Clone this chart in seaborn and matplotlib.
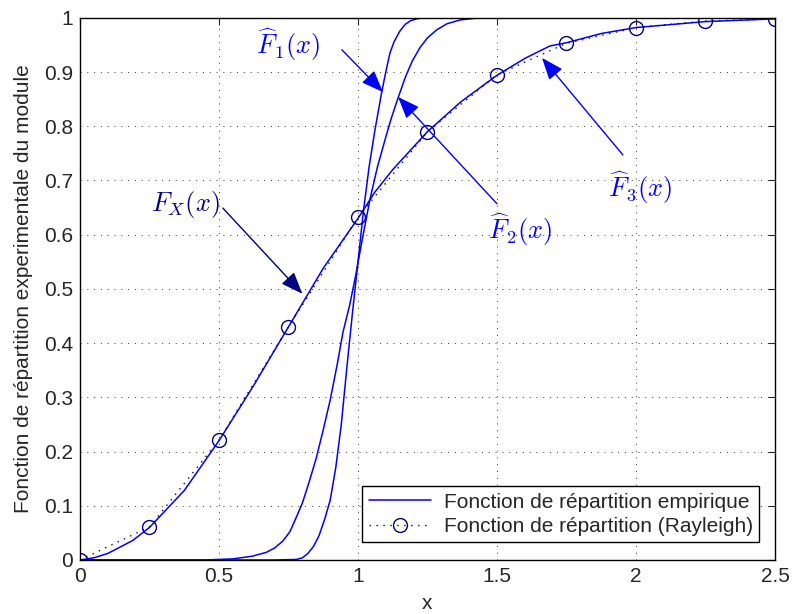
import numpy as np
import matplotlib
matplotlib.use("Agg")
import matplotlib.pyplot as plt
import seaborn as sns

# empirical CDF 1 (steepest)
x_f1 = [0.0, 0.5, 0.7, 0.78, 0.8, 0.82, 0.84, 0.86, 0.88, 0.9, 0.92, 0.94, 0.96, 0.98, 1.0, 1.02,
        1.04, 1.06, 1.085, 1.1, 1.115, 1.13, 1.15, 1.17, 1.19, 1.22, 1.25, 1.5, 2.0, 2.5]
y_f1 = [0.0, 0.0, 0.0, 0.001, 0.004, 0.012, 0.025, 0.045, 0.075, 0.11, 0.17, 0.25, 0.355, 0.455, 0.55, 0.645,
        0.725, 0.79, 0.862, 0.9, 0.935, 0.956, 0.975, 0.988, 0.995, 0.999, 1.0, 1.0, 1.0, 1.0]

# empirical CDF 2
x_f2 = [0.0, 0.45, 0.55, 0.62, 0.67, 0.7, 0.73, 0.755, 0.775, 0.8, 0.825, 0.85, 0.875, 0.9, 0.925, 0.946,
        0.97, 0.99, 1.015, 1.043, 1.07, 1.1, 1.12, 1.144, 1.17, 1.195, 1.223, 1.25, 1.284, 1.32, 1.367,
        1.42, 1.5, 2.0, 2.5]
y_f2 = [0.0, 0.0, 0.002, 0.007, 0.014, 0.022, 0.035, 0.052, 0.075, 0.105, 0.145, 0.188, 0.24, 0.295, 0.36, 0.42,
        0.47, 0.52, 0.59, 0.665, 0.725, 0.78, 0.815, 0.852, 0.89, 0.92, 0.945, 0.963, 0.978, 0.989, 0.996,
        0.999, 1.0, 1.0, 1.0]

# empirical CDF 3 (close to Rayleigh)
x_f3 = [0.0, 0.05, 0.1, 0.19, 0.25, 0.375, 0.5, 0.625, 0.75, 0.875, 1.0, 1.06, 1.125, 1.25, 1.37, 1.5,
        1.6, 1.69, 1.75, 1.875, 2.0, 2.25, 2.5]
y_f3 = [0.0, 0.004, 0.012, 0.036, 0.060, 0.128, 0.220, 0.322, 0.430, 0.538, 0.630, 0.678, 0.720, 0.790,
        0.845, 0.894, 0.925, 0.948, 0.954, 0.971, 0.982, 0.993, 0.998]

# Rayleigh CDF at sample points
x_ray = [0.0, 0.25, 0.5, 0.75, 1.0, 1.25, 1.5, 1.75, 2.0, 2.25, 2.5]
y_ray = [0.0, 0.061, 0.221, 0.430, 0.632, 0.790, 0.895, 0.953, 0.982, 0.994, 0.998]

x_ticks = [0, 0.5, 1, 1.5, 2, 2.5]
x_tick_labels = ["0", "0.5", "1", "1.5", "2", "2.5"]
y_ticks = [0, 0.1, 0.2, 0.3, 0.4, 0.5, 0.6, 0.7, 0.8, 0.9, 1.0]
y_tick_labels = ["0", "0.1", "0.2", "0.3", "0.4", "0.5", "0.6", "0.7", "0.8", "0.9", "1"]

sns.set_style("white")
plt.rcParams["font.family"] = ["Liberation Sans", "DejaVu Sans"]
plt.rcParams["mathtext.fontset"] = "cm"

blue = "#0000FF"
navy = "#000080"

fig = plt.figure(figsize=(7.92, 6.14), dpi=100)
ax = fig.add_axes([0.101, 0.088, 0.8775, 0.883])

sns.lineplot(x=x_f1, y=y_f1, ax=ax, color=blue, lw=1.1, sort=False, estimator=None,
             label="Fonction de répartition empirique")
sns.lineplot(x=x_f2, y=y_f2, ax=ax, color=blue, lw=1.1, sort=False, estimator=None)
sns.lineplot(x=x_f3, y=y_f3, ax=ax, color=blue, lw=1.1, sort=False, estimator=None)
sns.lineplot(x=x_ray, y=y_ray, ax=ax, color=navy, lw=1.0, linestyle=(0, (1, 4)), marker="o",
             markersize=10, markerfacecolor="none", markeredgecolor=navy, markeredgewidth=1.0,
             sort=False, estimator=None, label="Fonction de répartition (Rayleigh)")

ax.set_xlim(0, 2.5)
ax.set_ylim(0, 1)
ax.set_xticks(x_ticks)
ax.set_xticklabels(x_tick_labels)
ax.set_yticks(y_ticks)
ax.set_yticklabels(y_tick_labels)
ax.tick_params(direction="in", top=True, right=True, labelsize=15, length=5, width=0.8, pad=5)
ax.grid(True, color="#333333", linestyle=(0, (1, 6)), linewidth=0.7)
for s in ax.spines.values():
    s.set_color("black")
    s.set_linewidth(1.0)

ax.set_xlabel("x", fontsize=15, labelpad=6)
ax.set_ylabel("Fonction de répartition experimentale du module", fontsize=15, labelpad=8)

# annotations
arrow_kw = dict(arrowstyle="-|>,head_length=0.9,head_width=0.35", lw=1.0, shrinkA=0, shrinkB=0,
                mutation_scale=15)
ax.annotate("", xy=(1.09, 0.863), xytext=(0.942, 0.941),
            arrowprops=dict(color=blue, **arrow_kw))
ax.text(0.748, 0.95, r"$\widehat{F}_1(x)$", color=blue, fontsize=19, ha="center", va="center")
ax.annotate("", xy=(1.144, 0.854), xytext=(1.5, 0.657),
            arrowprops=dict(color=blue, **arrow_kw))
ax.text(1.583, 0.61, r"$\widehat{F}_2(x)$", color=blue, fontsize=19, ha="center", va="center")
ax.annotate("", xy=(1.662, 0.926), xytext=(1.953, 0.747),
            arrowprops=dict(color=blue, **arrow_kw))
ax.text(2.014, 0.686, r"$\widehat{F}_3(x)$", color=blue, fontsize=19, ha="center", va="center")
ax.annotate("", xy=(0.8, 0.491), xytext=(0.514, 0.649),
            arrowprops=dict(color=navy, **arrow_kw))
ax.text(0.378, 0.655, r"$F_X(x)$", color=navy, fontsize=19, ha="center", va="center")

leg = ax.legend(loc="lower right", bbox_to_anchor=(0.977, 0.033), borderaxespad=0,
                fontsize=15, frameon=True, fancybox=False, framealpha=1,
                edgecolor="black", handlelength=3.0, borderpad=0.3, labelspacing=0.25,
                handletextpad=0.6)
leg.get_frame().set_linewidth(1.0)

fig.savefig("out.png", dpi=100)
